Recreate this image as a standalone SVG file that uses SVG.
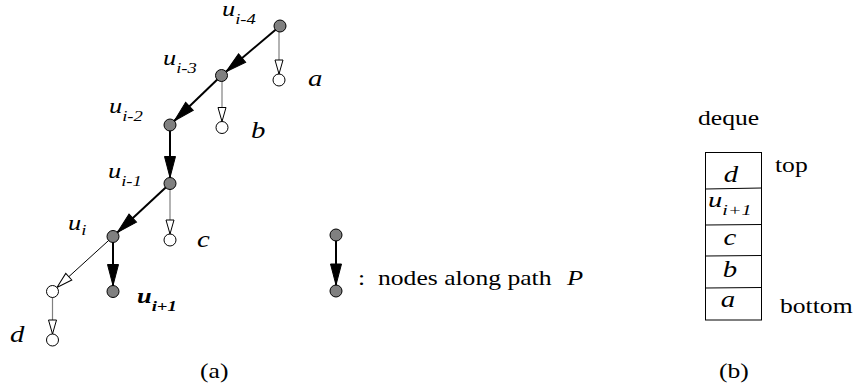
<svg xmlns="http://www.w3.org/2000/svg" width="856" height="392" viewBox="0 0 856 392">
<style>
.pn{fill:#808080;stroke:#000;stroke-width:1}
.wn{fill:#fff;stroke:#000;stroke-width:1}
.pe{stroke:#000;stroke-width:2;fill:none;marker-end:url(#fa)}
.ce{stroke:#808080;stroke-width:1.2;fill:none;marker-end:url(#ha)}
.de{stroke:#000;stroke-width:1;fill:none;marker-end:url(#ha2)}
.lab{font-family:"Liberation Serif","Times New Roman",serif;font-style:italic;font-size:22px;fill:#000}
.sub{font-size:15.5px}
.big{font-family:"Liberation Serif","Times New Roman",serif;font-style:italic;font-size:24px;fill:#000}
.rm{font-family:"Liberation Serif","Times New Roman",serif;font-size:21px;fill:#000}
.box{fill:#fff;stroke:#000;stroke-width:1}
</style>
<defs>
<marker id="fa" markerUnits="userSpaceOnUse" viewBox="0 0 28 12" refX="27" refY="6" markerWidth="28" markerHeight="12" orient="auto" overflow="visible">
<path d="M0,0.5 L21,6 L0,11.5 z" fill="#000" stroke="#000" stroke-width="1"/>
</marker>
<marker id="ha" markerUnits="userSpaceOnUse" viewBox="0 0 20 10" refX="20" refY="5" markerWidth="20" markerHeight="10" orient="auto" overflow="visible">
<path d="M0,1 L14,5 L0,9 z" fill="#fff" stroke="#000" stroke-width="1"/>
</marker>
<marker id="ha2" markerUnits="userSpaceOnUse" viewBox="0 0 22 10" refX="22" refY="5" markerWidth="22" markerHeight="10" orient="auto" overflow="visible">
<path d="M0,0.5 L16,5 L0,9.5 z" fill="#fff" stroke="#000" stroke-width="1"/>
</marker>
</defs>

<g id="connectors">
<line class="pe" x1="280" y1="26" x2="221.5" y2="75.5"/>
<line class="pe" x1="221.5" y1="75.5" x2="170" y2="125"/>
<line class="pe" x1="170" y1="125" x2="170" y2="183.5"/>
<line class="pe" x1="170" y1="183.5" x2="113" y2="236.5"/>
<line class="pe" x1="113" y1="236.5" x2="113" y2="291.5"/>
<line class="ce" x1="279" y1="26" x2="279" y2="80"/>
<line class="ce" x1="222" y1="75.5" x2="222" y2="127.5"/>
<line class="ce" x1="170" y1="183.5" x2="170" y2="240"/>
<line class="de" x1="113" y1="236.5" x2="52.5" y2="291.5"/>
<line class="ce" x1="52.5" y1="291.5" x2="52.5" y2="340"/>
<line class="pe" x1="336" y1="235" x2="336" y2="291"/>
</g>

<g id="u_i-4">
<circle class="pn" cx="280" cy="26" r="6"/>
<text class="lab" transform="matrix(1.2 0 0 1 222 15.5)">u<tspan class="sub" dy="8">i-4</tspan></text>
</g>
<g id="u_i-3">
<circle class="pn" cx="221.5" cy="75.5" r="6"/>
<text class="lab" transform="matrix(1.2 0 0 1 163 65)">u<tspan class="sub" dy="8">i-3</tspan></text>
</g>
<g id="u_i-2">
<circle class="pn" cx="170" cy="125" r="6"/>
<text class="lab" transform="matrix(1.2 0 0 1 109 113)">u<tspan class="sub" dy="8">i-2</tspan></text>
</g>
<g id="u_i-1">
<circle class="pn" cx="170" cy="183.5" r="6"/>
<text class="lab" transform="matrix(1.2 0 0 1 108 178)">u<tspan class="sub" dy="8">i-1</tspan></text>
</g>
<g id="u_i">
<circle class="pn" cx="113" cy="236.5" r="6"/>
<text class="lab" transform="matrix(1.2 0 0 1 68 230)">u<tspan class="sub" dy="5">i</tspan></text>
</g>
<g id="u_i+1">
<circle class="pn" cx="113" cy="291.5" r="6"/>
<text class="lab" font-weight="bold" transform="matrix(1.2 0 0 1 137 302.5)">u<tspan class="sub" dy="8">i+1</tspan></text>
</g>
<g id="a">
<circle class="wn" cx="279" cy="80" r="6"/>
<text class="big" transform="matrix(1.2 0 0 1 308 86)">a</text>
</g>
<g id="b">
<circle class="wn" cx="222" cy="127.5" r="6"/>
<text class="big" transform="matrix(1.2 0 0 1 251 138)">b</text>
</g>
<g id="c">
<circle class="wn" cx="170" cy="240" r="6"/>
<text class="big" transform="matrix(1.2 0 0 1 197 246.5)">c</text>
</g>
<g id="dparent">
<circle class="wn" cx="52.5" cy="291.5" r="6"/>
</g>
<g id="d">
<circle class="wn" cx="52.5" cy="340" r="6"/>
<text class="big" transform="matrix(1.2 0 0 1 10 341.5)">d</text>
</g>

<g id="legend">
<circle class="pn" cx="336" cy="235" r="6"/>
<circle class="pn" cx="336" cy="291" r="6"/>
<text class="rm" transform="matrix(1.22 0 0 1 358 285)">:</text>
<text class="rm" transform="matrix(1.22 0 0 1 378 285)">nodes along path</text>
<text class="lab" transform="matrix(1.2 0 0 1 567 285)">P</text>
</g>

<text class="rm" transform="matrix(1.22 0 0 1 200 378)">(a)</text>

<g id="deque">
<text class="rm" transform="matrix(1.22 0 0 1 698 125)">deque</text>
<rect class="box" x="705.5" y="152.5" width="56" height="167.5"/>
<line class="box" x1="705.5" y1="189" x2="761.5" y2="188"/>
<line class="box" x1="705.5" y1="225" x2="761.5" y2="224.5"/>
<line class="box" x1="705.5" y1="256" x2="761.5" y2="255.5"/>
<line class="box" x1="705.5" y1="288" x2="761.5" y2="287.5"/>
<text class="big" text-anchor="middle" transform="matrix(1.2 0 0 1 731 181.5)">d</text>
<text class="lab" transform="matrix(1.3 0 0 1 708 206.5)">u<tspan class="sub" font-size="16" dy="8">i+1</tspan></text>
<text class="big" text-anchor="middle" transform="matrix(1.2 0 0 1 730 245)">c</text>
<text class="big" text-anchor="middle" transform="matrix(1.2 0 0 1 730 277)">b</text>
<text class="big" text-anchor="middle" transform="matrix(1.2 0 0 1 728 306.5)">a</text>
<text class="rm" transform="matrix(1.22 0 0 1 775 171.5)">top</text>
<text class="rm" transform="matrix(1.22 0 0 1 780 313)">bottom</text>
</g>

<text class="rm" transform="matrix(1.22 0 0 1 719 378)">(b)</text>
</svg>
